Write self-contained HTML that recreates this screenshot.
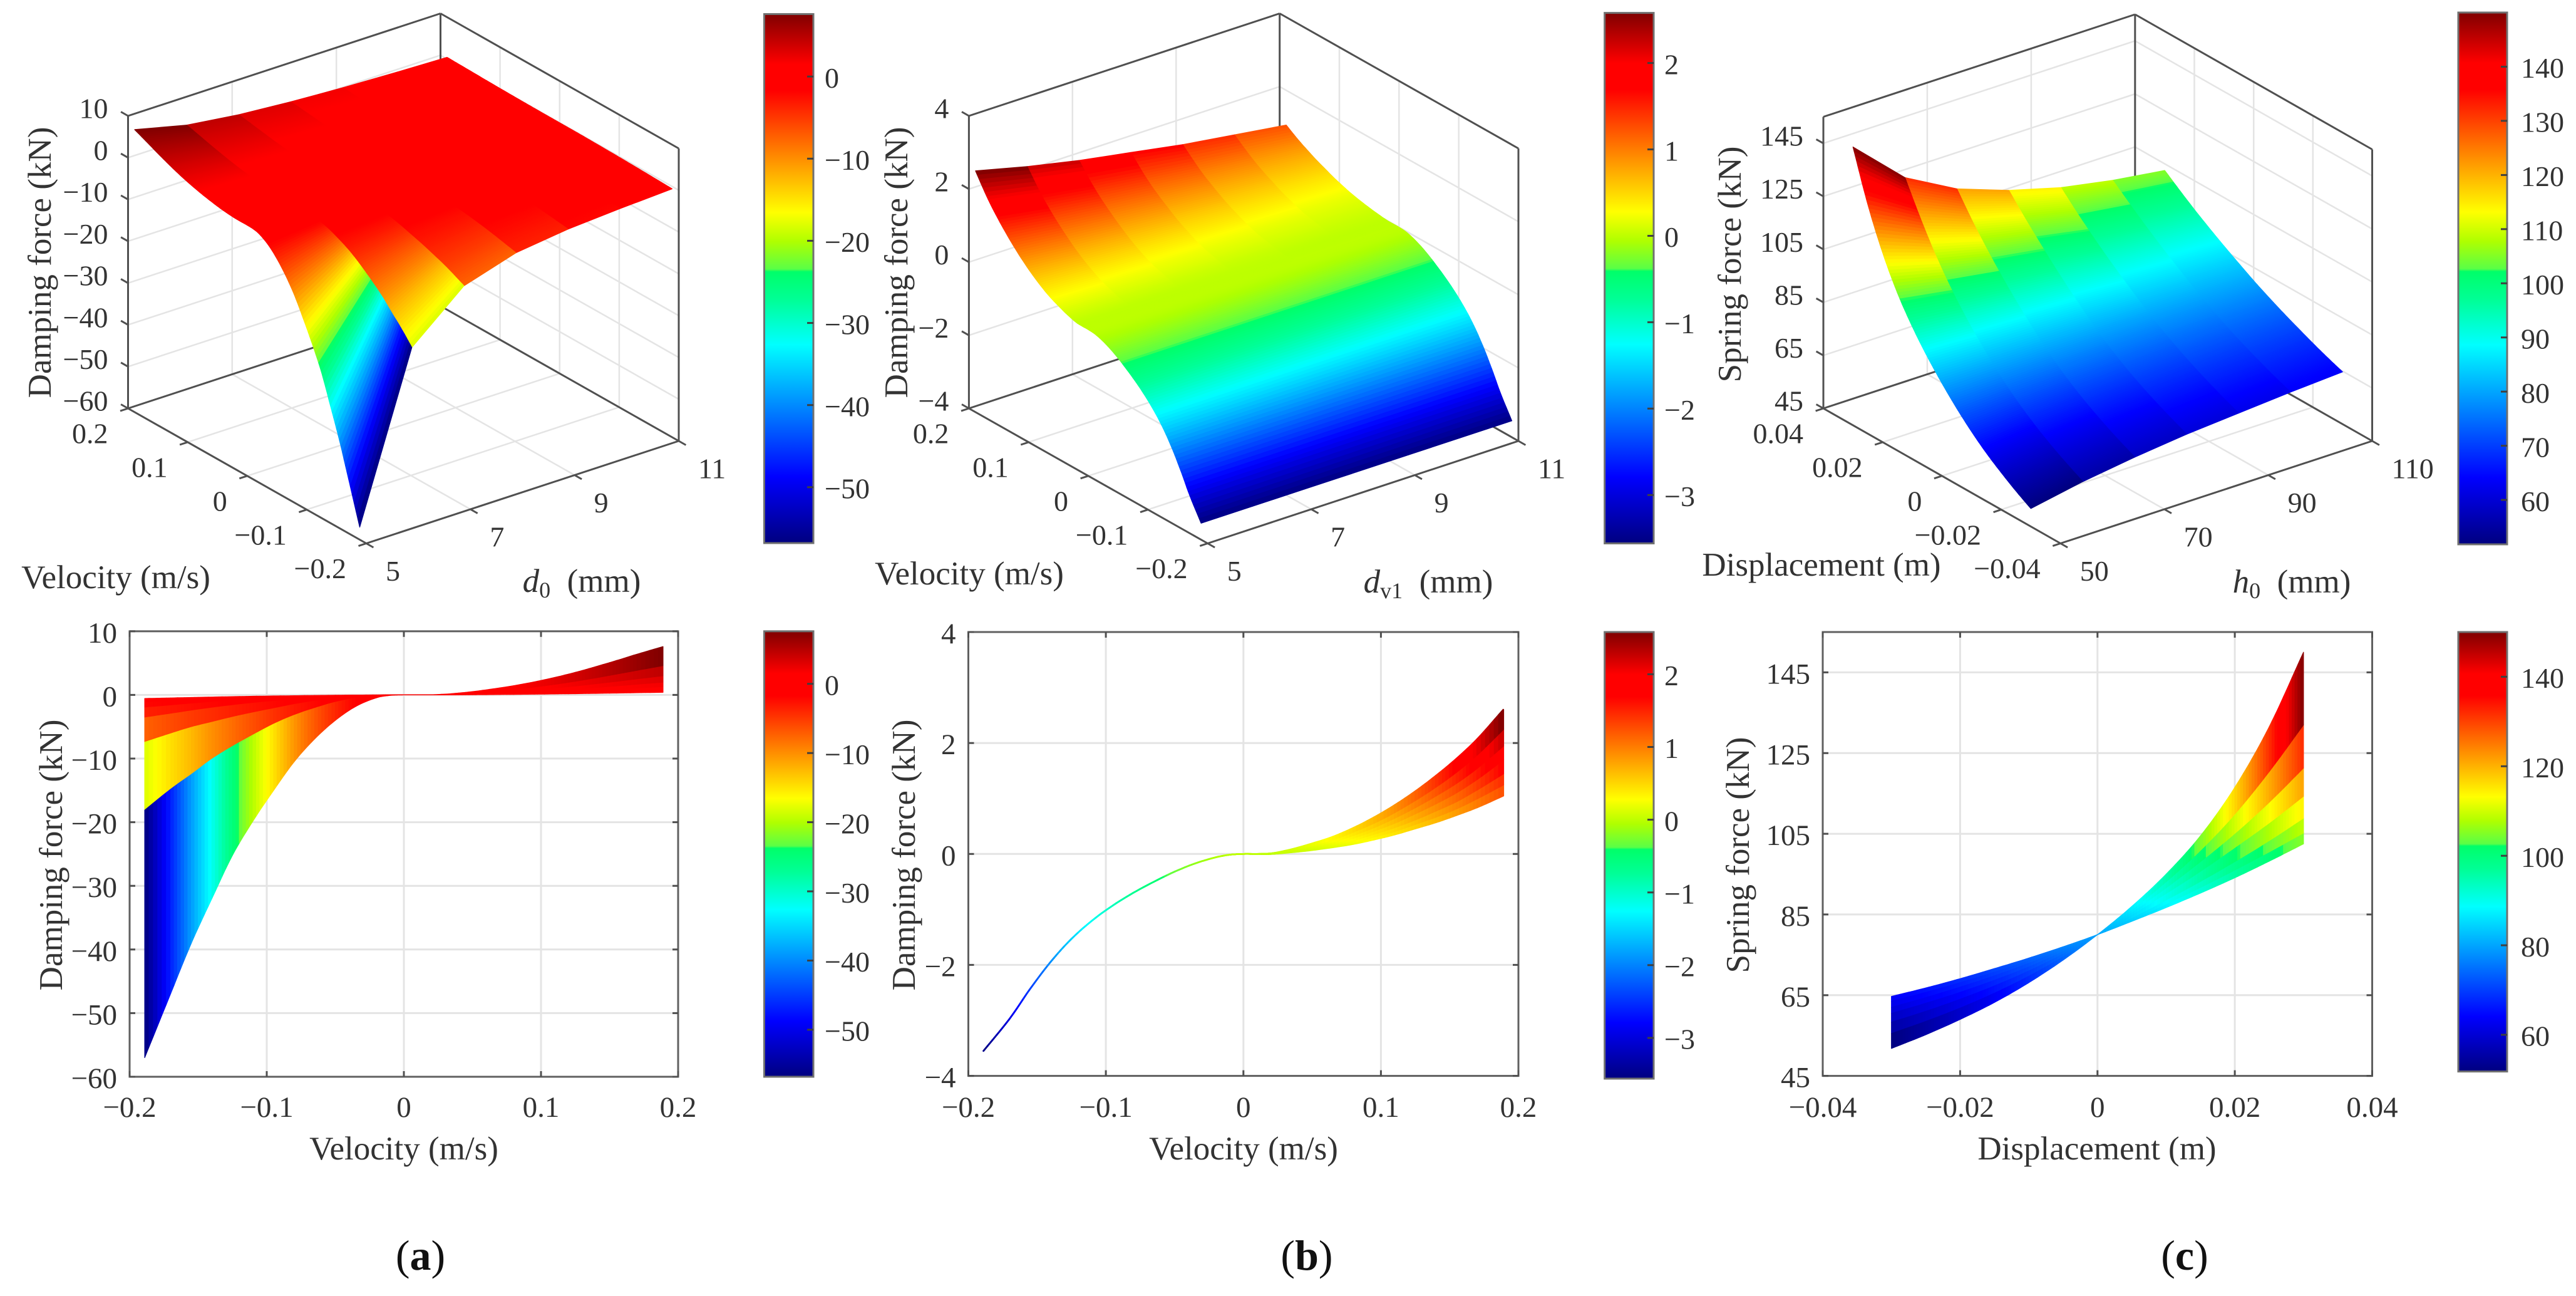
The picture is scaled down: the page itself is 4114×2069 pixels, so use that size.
<!DOCTYPE html>
<html lang="en">
<head>
<meta charset="utf-8">
<title>Damping and spring force response surfaces</title>
<style>
html,body{margin:0;padding:0;background:#fff;}
svg{display:block;}
text{font-family:"Liberation Serif","Times New Roman",serif;fill:#333;}
</style>
</head>
<body>
<svg id="figure" xmlns="http://www.w3.org/2000/svg" width="4114" height="2069" viewBox="0 0 4114 2069">
<rect x="0" y="0" width="4114" height="2069" fill="#fff"></rect>
<defs>
<linearGradient id="cbar-grad" x1="0" y1="1" x2="0" y2="0"></linearGradient>
</defs>
</svg>
<script>
/* ---------- data ---------- */
const velocitySamples = [-0.189,-0.17,-0.155,-0.14,-0.125,-0.11,-0.095,-0.08,-0.065,-0.05,-0.035,-0.02,-0.01,0,0.01,0.02,0.035,0.05,0.065,0.08,0.095,0.11,0.125,0.14,0.155,0.17,0.189];
const displacementSamples = [-0.03,-0.025,-0.02,-0.015,-0.01,-0.005,0,0.005,0.01,0.015,0.02,0.025,0.03];

const d0Values = [5,6,7,8,9,10,11];
const dv1Values = [5,6,7,8,9,10,11];
const h0Values = [50,60,70,80,90,100,110];

const dampingA_d5  = [-57,-46.9,-39,-32,-25.2,-19.8,-15,-10.5,-6.9,-4,-1.8,-0.45,-0.08,0,0,0.02,0.2,0.52,0.95,1.45,2.05,2.75,3.55,4.45,5.4,6.4,7.6];
const dampingA_d6  = [-18.1,-14.8,-12.5,-10.1,-8.1,-6.3,-4.6,-3.2,-2.1,-1.15,-0.5,-0.12,-0.02,0,0,0.01,0.12,0.31,0.57,0.88,1.24,1.66,2.15,2.69,3.27,3.87,4.6];
const dampingA_d7  = [-7.44,-6.1,-5.1,-4.3,-3.5,-2.8,-2.15,-1.5,-0.98,-0.55,-0.22,-0.06,-0.01,0,0,0.01,0.08,0.21,0.38,0.57,0.81,1.09,1.4,1.76,2.13,2.53,3];
const dampingA_d8  = [-3.6,-3,-2.5,-2.05,-1.65,-1.3,-1,-0.72,-0.48,-0.27,-0.12,-0.04,-0.01,0,0,0.01,0.05,0.14,0.25,0.38,0.54,0.72,0.93,1.17,1.42,1.68,2];
const dampingA_d9  = [-2.03,-1.68,-1.4,-1.14,-0.92,-0.72,-0.55,-0.4,-0.26,-0.15,-0.07,-0.02,0,0,0,0,0.03,0.09,0.16,0.25,0.35,0.47,0.61,0.76,0.92,1.09,1.3];
const dampingA_d10 = [-1.2,-0.98,-0.8,-0.65,-0.52,-0.4,-0.3,-0.22,-0.14,-0.08,-0.04,-0.01,0,0,0,0,0.02,0.05,0.1,0.15,0.22,0.29,0.37,0.47,0.57,0.67,0.8];
const dampingA_d11 = [-0.56,-0.47,-0.4,-0.33,-0.27,-0.21,-0.16,-0.12,-0.08,-0.05,-0.02,-0.01,0,0,0,0,0.01,0.03,0.05,0.08,0.11,0.15,0.19,0.24,0.29,0.34,0.4];

const dampingB_d5  = [-3.55,-2.97,-2.43,-1.94,-1.53,-1.2,-0.93,-0.7,-0.5,-0.32,-0.17,-0.06,-0.015,0,0,0.01,0.085,0.19,0.31,0.47,0.66,0.88,1.13,1.41,1.72,2.07,2.6];
const dampingB_d6  = [-3.55,-2.97,-2.43,-1.94,-1.53,-1.2,-0.93,-0.7,-0.5,-0.32,-0.17,-0.06,-0.015,0,0,0.01,0.07,0.16,0.26,0.4,0.56,0.75,0.97,1.21,1.48,1.79,2.25];
const dampingB_d7  = [-3.55,-2.97,-2.43,-1.94,-1.53,-1.2,-0.93,-0.7,-0.5,-0.32,-0.17,-0.06,-0.015,0,0,0.01,0.06,0.14,0.22,0.34,0.48,0.65,0.84,1.05,1.28,1.55,1.95];
const dampingB_d8  = [-3.55,-2.97,-2.43,-1.94,-1.53,-1.2,-0.93,-0.7,-0.5,-0.32,-0.17,-0.06,-0.015,0,0,0.01,0.05,0.12,0.19,0.29,0.42,0.56,0.73,0.91,1.11,1.35,1.7];
const dampingB_d9  = [-3.55,-2.97,-2.43,-1.94,-1.53,-1.2,-0.93,-0.7,-0.5,-0.32,-0.17,-0.06,-0.015,0,0,0,0.04,0.1,0.16,0.25,0.36,0.48,0.62,0.78,0.95,1.16,1.45];
const dampingB_d10 = [-3.55,-2.97,-2.43,-1.94,-1.53,-1.2,-0.93,-0.7,-0.5,-0.32,-0.17,-0.06,-0.015,0,0,0,0.035,0.085,0.14,0.21,0.31,0.41,0.54,0.67,0.82,1,1.25];
const dampingB_d11 = [-3.55,-2.97,-2.43,-1.94,-1.53,-1.2,-0.93,-0.7,-0.5,-0.32,-0.17,-0.06,-0.015,0,0,0,0.03,0.07,0.12,0.18,0.26,0.35,0.46,0.57,0.7,0.84,1.05];

const springC_h50  = [51.8,55.2,59,63.2,68.1,73.7,80,87,95,104.5,116.5,131.5,150];
const springC_h60  = [55.5,58.5,61.8,65.5,69.7,74.5,80,86.2,93.1,100.9,109.9,120.4,132];
const springC_h70  = [58.3,61,64,67.3,71,75.2,80,85.6,91.6,98.1,105.1,112.8,121.3];
const springC_h80  = [60.5,63,65.7,68.7,72,75.8,80,85,90.2,95.7,101.6,107.7,114.3];
const springC_h90  = [62,64.4,67,69.8,72.9,76.3,80,84.2,88.6,93.2,98.1,103.3,108.9];
const springC_h100 = [63.5,65.7,68.1,70.7,73.5,76.6,80,83.7,87.6,91.7,96,100.5,105.2];
const springC_h110 = [64.7,66.8,69.1,71.6,74.2,77,80,83.3,86.7,90.3,94.1,98.2,102.5];

const dampingACurves = [dampingA_d5,dampingA_d6,dampingA_d7,dampingA_d8,dampingA_d9,dampingA_d10,dampingA_d11];
const dampingBCurves = [dampingB_d5,dampingB_d6,dampingB_d7,dampingB_d8,dampingB_d9,dampingB_d10,dampingB_d11];
const springCCurves = [springC_h50,springC_h60,springC_h70,springC_h80,springC_h90,springC_h100,springC_h110];

/* tick values and labels */
const dTicks = [5,7,9,11];
const dTickLabels = ['5','7','9','11'];
const hTicks = [50,70,90,110];
const hTickLabels = ['50','70','90','110'];
const velocityTicks = [-0.2,-0.1,0,0.1,0.2];
const velocityTickLabels = ['\u22120.2','\u22120.1','0','0.1','0.2'];
const displacementTicks = [-0.04,-0.02,0,0.02,0.04];
const displacementTickLabels = ['\u22120.04','\u22120.02','0','0.02','0.04'];
const forceATicks = [-60,-50,-40,-30,-20,-10,0,10];
const forceATickLabels = ['\u221260','\u221250','\u221240','\u221230','\u221220','\u221210','0','10'];
const forceBTicks = [-4,-2,0,2,4];
const forceBTickLabels = ['\u22124','\u22122','0','2','4'];
const forceCTicks = [45,65,85,105,125,145];
const forceCTickLabels = ['45','65','85','105','125','145'];
const cbarATicks = [-50,-40,-30,-20,-10,0];
const cbarATickLabels = ['\u221250','\u221240','\u221230','\u221220','\u221210','0'];
const cbarBTicks = [-3,-2,-1,0,1,2];
const cbarBTickLabels = ['\u22123','\u22122','\u22121','0','1','2'];
const cbarCTopTicks = [60,70,80,90,100,110,120,130,140];
const cbarCTopTickLabels = ['60','70','80','90','100','110','120','130','140'];
const cbarCBottomTicks = [60,80,100,120,140];
const cbarCBottomTickLabels = ['60','80','100','120','140'];

/* colormap used by the surfaces and colour bars (position, r, g, b) */
const colormapPositions = [0,0.125,0.375,0.46,0.513,0.518,0.57,0.625,0.855,0.905,1];
const colormapRed   = [0,0,0,0,0,90,175,255,255,255,128];
const colormapGreen = [0,0,255,255,255,255,255,255,0,0,0];
const colormapBlue  = [128,255,255,150,105,70,0,0,0,0,0];

/* ---------- helpers ---------- */
const NS = 'http://www.w3.org/2000/svg';
const root = document.getElementById('figure');
const INK = '#505050';
const GRID = '#e4e4e4';
const TICK_SIZE = 46;
const TITLE_SIZE = 53;

function node(tag, parent, name) {
  const e = document.createElementNS(NS, tag);
  
  
  parent.appendChild(e);
  return e;
}
function line(parent, name, a, b, color, width) {
  const l = node('line', parent, name);
  l.setAttribute('x1', a.x.toFixed(1));
  l.setAttribute('y1', a.y.toFixed(1));
  l.setAttribute('x2', b.x.toFixed(1));
  l.setAttribute('y2', b.y.toFixed(1));
  l.setAttribute('stroke', color);
  l.setAttribute('stroke-width', width);
  return l;
}
function label(parent, name, str, x, cy, size, anchor, rotate) {
  const t = node('text', parent, name);
  t.setAttribute('text-anchor', anchor || 'middle');
  t.setAttribute('font-size', size);
  if (rotate) {
    t.setAttribute('transform', 'translate(' + x + ',' + cy + ') rotate(' + rotate + ')');
    t.setAttribute('x', 0);
    t.setAttribute('y', (size * 0.32).toFixed(1));
  } else {
    t.setAttribute('x', x);
    t.setAttribute('y', (cy + size * 0.32).toFixed(1));
  }
  t.textContent = str;
  return t;
}
function colorOf(value, clim) {
  let s = (value - clim[0]) / (clim[1] - clim[0]);
  s = Math.max(0, Math.min(1, s));
  let i = 0;
  while (i < colormapPositions.length - 2 && s > colormapPositions[i + 1]) i++;
  const f = (s - colormapPositions[i]) / (colormapPositions[i + 1] - colormapPositions[i]);
  const r = colormapRed[i] + f * (colormapRed[i + 1] - colormapRed[i]);
  const g = colormapGreen[i] + f * (colormapGreen[i + 1] - colormapGreen[i]);
  const b = colormapBlue[i] + f * (colormapBlue[i + 1] - colormapBlue[i]);
  return 'rgb(' + Math.round(r) + ',' + Math.round(g) + ',' + Math.round(b) + ')';
}
/* cubic Hermite through the samples, with tangents taken in real axis units */
function curveAt(arr, t, xs) {
  const n = arr.length;
  const i = Math.min(Math.floor(t), n - 2);
  const f = t - i;
  const h = xs[i + 1] - xs[i];
  const chord = (arr[i + 1] - arr[i]) / h;
  const m1 = i > 0 ? (arr[i + 1] - arr[i - 1]) / (xs[i + 1] - xs[i - 1]) : chord;
  const m2 = i < n - 2 ? (arr[i + 2] - arr[i]) / (xs[i + 2] - xs[i]) : chord;
  const f2 = f * f, f3 = f2 * f;
  return (2 * f3 - 3 * f2 + 1) * arr[i] + (f3 - 2 * f2 + f) * h * m1 + (3 * f2 - 2 * f3) * arr[i + 1] + (f3 - f2) * h * m2;
}
function sampleAt(arr, t) {
  const i = Math.min(Math.floor(t), arr.length - 2);
  return arr[i] + (t - i) * (arr[i + 1] - arr[i]);
}
function quad(parent, name, pts, fill, strokeW) {
  const p = node('polygon', parent, name);
  p.setAttribute('points', pts.map(function (q) { return q.x.toFixed(1) + ',' + q.y.toFixed(1); }).join(' '));
  p.setAttribute('fill', fill);
  p.setAttribute('stroke', fill);
  p.setAttribute('stroke-width', strokeW);
  p.setAttribute('stroke-linejoin', 'round');
  return p;
}

/* shared colormap gradient */
(function () {
  const g = document.getElementById('cbar-grad');
  for (let i = 0; i < colormapPositions.length; i++) {
    const s = document.createElementNS(NS, 'stop');
    s.setAttribute('offset', colormapPositions[i]);
    s.setAttribute('stop-color', 'rgb(' + colormapRed[i] + ',' + colormapGreen[i] + ',' + colormapBlue[i] + ')');
    g.appendChild(s);
  }
})();

/* ---------- colour bar ---------- */
function drawColorbar(parent, c) {
  const g = node('g', parent, c.name);
  const bar = node('rect', g, 'colorbar-gradient');
  bar.setAttribute('x', c.x0);
  bar.setAttribute('y', c.y0);
  bar.setAttribute('width', c.x1 - c.x0);
  bar.setAttribute('height', c.y1 - c.y0);
  bar.setAttribute('fill', 'url(#cbar-grad)');
  bar.setAttribute('stroke', '#707070');
  bar.setAttribute('stroke-width', 3);
  const scale = function (val) { return c.y1 - (val - c.clim[0]) / (c.clim[1] - c.clim[0]) * (c.y1 - c.y0); };
  c.ticks.forEach(function (val, i) {
    const y = scale(val);
    line(g, 'colorbar-tick', { x: c.x1 - 10, y: y }, { x: c.x1, y: y }, '#404040', 3);
    label(g, 'colorbar-tick-label', c.labels[i], c.x1 + c.labelGap, y + 3, TICK_SIZE, 'start');
  });
}

/* ---------- 3D surface ---------- */
function draw3D(parent, c) {
  const g = node('g', parent, c.name);
  const ex = { x: c.right.x - c.front.x, y: c.right.y - c.front.y };
  const ey = { x: c.left.x - c.front.x, y: c.left.y - c.front.y };
  const P = function (u, v, w) {
    return { x: c.front.x + u * ex.x + v * ey.x, y: c.front.y + u * ex.y + v * ey.y - w * c.height };
  };
  const U = function (val) { return (val - c.xRange[0]) / (c.xRange[1] - c.xRange[0]); };
  const V = function (val) { return (val - c.yRange[0]) / (c.yRange[1] - c.yRange[0]); };
  const W = function (val) { return (val - c.zRange[0]) / (c.zRange[1] - c.zRange[0]); };

  const grid = node('g', g, 'grid-lines');
  c.zTicks.forEach(function (val) {
    const w = W(val);
    line(grid, 'z-gridline', P(0, 1, w), P(1, 1, w), GRID, 2.5);
    line(grid, 'z-gridline', P(1, 1, w), P(1, 0, w), GRID, 2.5);
  });
  c.xTicks.forEach(function (val) {
    const u = U(val);
    line(grid, 'x-gridline', P(u, 1, 0), P(u, 1, 1), GRID, 2.5);
    line(grid, 'x-gridline', P(u, 0, 0), P(u, 1, 0), GRID, 2.5);
  });
  c.yTicks.forEach(function (val) {
    const v = V(val);
    line(grid, 'y-gridline', P(1, v, 0), P(1, v, 1), GRID, 2.5);
    line(grid, 'y-gridline', P(0, v, 0), P(1, v, 0), GRID, 2.5);
  });

  const back = node('g', g, 'back-box-edges');
  line(back, 'box-edge', P(0, 1, 0), P(1, 1, 0), INK, 3);
  line(back, 'box-edge', P(1, 1, 0), P(1, 0, 0), INK, 3);
  line(back, 'box-edge', P(1, 1, 0), P(1, 1, 1), INK, 3);
  line(back, 'box-edge', P(0, 1, 1), P(1, 1, 1), INK, 3);
  line(back, 'box-edge', P(1, 1, 1), P(1, 0, 1), INK, 3);

  const surf = node('g', g, 'surface');
  const n = c.samples.length;
  for (let i = c.curves.length - 2; i >= 0; i--) {
    const near = c.curves[i], far = c.curves[i + 1];
    const u0 = U(c.params[i]), u1 = U(c.params[i + 1]);
    for (let j = (n - 1) * c.subdiv - 1; j >= 0; j--) {
      const ta = j / c.subdiv, tb = (j + 1) / c.subdiv;
      const va = V(sampleAt(c.samples, ta)), vb = V(sampleAt(c.samples, tb));
      const pts = [
        P(u0, va, W(curveAt(near, ta, c.samples))),
        P(u0, vb, W(curveAt(near, tb, c.samples))),
        P(u1, vb, W(curveAt(far, tb, c.samples))),
        P(u1, va, W(curveAt(far, ta, c.samples)))
      ];
      quad(surf, 'surface-cell', pts, colorOf(curveAt(near, (ta + tb) / 2, c.samples), c.clim), 1.2);
    }
  }

  const front = node('g', g, 'front-box-edges');
  line(front, 'box-edge', P(0, 0, 0), P(1, 0, 0), INK, 3);
  line(front, 'box-edge', P(0, 0, 0), P(0, 1, 0), INK, 3);
  line(front, 'box-edge', P(0, 1, 0), P(0, 1, 1), INK, 3);
  line(front, 'box-edge', P(1, 0, 0), P(1, 0, 1), INK, 3);

  const axes = node('g', g, 'axis-ticks');
  c.xTicks.forEach(function (val, i) {
    const u = U(val);
    line(axes, 'x-tick', P(u, 0, 0), P(u, -0.03, 0), INK, 3);
    const p = P(u, 0, 0);
    label(axes, 'x-tick-label', c.xLabels[i], p.x + 31, p.y + 45, TICK_SIZE, 'start');
  });
  c.yTicks.forEach(function (val, i) {
    const v = V(val);
    line(axes, 'y-tick', P(0, v, 0), P(-0.025, v, 0), INK, 3);
    const p = P(0, v, 0);
    label(axes, 'y-tick-label', c.yLabels[i], p.x - 32, p.y + 41, TICK_SIZE, 'end');
  });
  c.zTicks.forEach(function (val, i) {
    const w = W(val);
    line(axes, 'z-tick', P(0, 1, w), P(0, 1.03, w), INK, 3);
    const p = P(0, 1, w);
    label(axes, 'z-tick-label', c.zLabels[i], p.x - 32, p.y - 11, TICK_SIZE, 'end');
  });

  label(g, 'z-axis-title', c.zTitle, c.zTitlePos.x, c.zTitlePos.y, TITLE_SIZE, 'middle', -90);
  label(g, 'y-axis-title', c.yTitle, c.yTitlePos.x, c.yTitlePos.y, TITLE_SIZE, 'middle');

  const t = node('text', g, 'x-axis-title');
  t.setAttribute('text-anchor', 'middle');
  t.setAttribute('font-size', TITLE_SIZE);
  t.setAttribute('x', c.xTitlePos.x);
  t.setAttribute('y', c.xTitlePos.y + 17);
  const a = document.createElementNS(NS, 'tspan');
  a.setAttribute('font-style', 'italic');
  a.textContent = c.xSymbol;
  t.appendChild(a);
  const b = document.createElementNS(NS, 'tspan');
  b.setAttribute('font-size', 36);
  b.setAttribute('dy', 9);
  b.textContent = c.xSubscript;
  t.appendChild(b);
  const d = document.createElementNS(NS, 'tspan');
  d.setAttribute('dy', -9);
  d.textContent = '\u00A0\u00A0(mm)';
  t.appendChild(d);
}

/* ---------- 2D projection ---------- */
function draw2D(parent, c) {
  const g = node('g', parent, c.name);
  const X = function (val) { return c.x0 + (val - c.xRange[0]) / (c.xRange[1] - c.xRange[0]) * (c.x1 - c.x0); };
  const Y = function (val) { return c.y1 - (val - c.yRange[0]) / (c.yRange[1] - c.yRange[0]) * (c.y1 - c.y0); };

  const grid = node('g', g, 'grid-lines');
  c.xTicks.forEach(function (val) {
    line(grid, 'x-gridline', { x: X(val), y: c.y0 }, { x: X(val), y: c.y1 }, GRID, 3);
  });
  c.yTicks.forEach(function (val) {
    line(grid, 'y-gridline', { x: c.x0, y: Y(val) }, { x: c.x1, y: Y(val) }, GRID, 3);
  });

  const surf = node('g', g, 'force-band');
  const n = c.samples.length;
  for (let i = c.curves.length - 2; i >= 0; i--) {
    const near = c.curves[i], far = c.curves[i + 1];
    for (let j = 0; j < (n - 1) * c.subdiv; j++) {
      const ta = j / c.subdiv, tb = (j + 1) / c.subdiv;
      const xa = X(sampleAt(c.samples, ta)), xb = X(sampleAt(c.samples, tb));
      const pts = [
        { x: xa, y: Y(curveAt(near, ta, c.samples)) },
        { x: xb, y: Y(curveAt(near, tb, c.samples)) },
        { x: xb, y: Y(curveAt(far, tb, c.samples)) },
        { x: xa, y: Y(curveAt(far, ta, c.samples)) }
      ];
      quad(surf, 'band-cell', pts, colorOf(curveAt(near, (ta + tb) / 2, c.samples), c.clim), c.strokeW);
    }
  }

  const frame = node('rect', g, 'plot-frame');
  frame.setAttribute('x', c.x0);
  frame.setAttribute('y', c.y0);
  frame.setAttribute('width', c.x1 - c.x0);
  frame.setAttribute('height', c.y1 - c.y0);
  frame.setAttribute('fill', 'none');
  frame.setAttribute('stroke', '#606060');
  frame.setAttribute('stroke-width', 3);

  c.xTicks.forEach(function (val, i) {
    line(g, 'x-tick', { x: X(val), y: c.y1 }, { x: X(val), y: c.y1 - 9 }, INK, 3);
    line(g, 'x-tick', { x: X(val), y: c.y0 }, { x: X(val), y: c.y0 + 9 }, INK, 3);
    label(g, 'x-tick-label', c.xLabels[i], X(val), 1768, TICK_SIZE + 1, 'middle');
  });
  c.yTicks.forEach(function (val, i) {
    line(g, 'y-tick', { x: c.x0, y: Y(val) }, { x: c.x0 + 9, y: Y(val) }, INK, 3);
    line(g, 'y-tick', { x: c.x1, y: Y(val) }, { x: c.x1 - 9, y: Y(val) }, INK, 3);
    label(g, 'y-tick-label', c.yLabels[i], c.x0 - 20, Y(val) + 3, TICK_SIZE + 1, 'end');
  });
  label(g, 'y-axis-title', c.yTitle, c.yTitlePos.x, c.yTitlePos.y, TITLE_SIZE, 'middle', -90);
  label(g, 'x-axis-title', c.xTitle, c.xTitlePos.x, c.xTitlePos.y, TITLE_SIZE, 'middle');
}

/* ---------- panels ---------- */
const climA = [-56.8, 7.6];
const climB = [-3.56, 2.58];
const climC = [51.8, 150];

draw3D(root, {
  name: 'surface-plot-a',
  front: { x: 585, y: 867.5 }, right: { x: 1084, y: 704 }, left: { x: 204.5, y: 652 }, height: 467,
  xRange: [5, 11], yRange: [-0.2, 0.2], zRange: [-60, 10], clim: climA,
  samples: velocitySamples, params: d0Values, curves: dampingACurves, subdiv: 6,
  xTicks: dTicks, xLabels: dTickLabels, yTicks: velocityTicks, yLabels: velocityTickLabels,
  zTicks: forceATicks, zLabels: forceATickLabels,
  zTitle: 'Damping force (kN)', zTitlePos: { x: 64, y: 419 },
  yTitle: 'Velocity (m/s)', yTitlePos: { x: 185, y: 922 },
  xSymbol: 'd', xSubscript: '0', xTitlePos: { x: 929, y: 928 }
});
draw3D(root, {
  name: 'surface-plot-b',
  front: { x: 1928.7, y: 867.5 }, right: { x: 2425, y: 704 }, left: { x: 1547.4, y: 652 }, height: 467,
  xRange: [5, 11], yRange: [-0.2, 0.2], zRange: [-4, 4], clim: climB,
  samples: velocitySamples, params: dv1Values, curves: dampingBCurves, subdiv: 6,
  xTicks: dTicks, xLabels: dTickLabels, yTicks: velocityTicks, yLabels: velocityTickLabels,
  zTicks: forceBTicks, zLabels: forceBTickLabels,
  zTitle: 'Damping force (kN)', zTitlePos: { x: 1432, y: 419 },
  yTitle: 'Velocity (m/s)', yTitlePos: { x: 1548, y: 916 },
  xSymbol: 'd', xSubscript: 'v1', xTitlePos: { x: 2281, y: 929 }
});
draw3D(root, {
  name: 'surface-plot-c',
  front: { x: 3290.7, y: 867.5 }, right: { x: 3788.5, y: 704 }, left: { x: 2912, y: 652 }, height: 465.5,
  xRange: [50, 110], yRange: [-0.04, 0.04], zRange: [45, 155], clim: climC,
  samples: displacementSamples, params: h0Values, curves: springCCurves, subdiv: 12,
  xTicks: hTicks, xLabels: hTickLabels, yTicks: displacementTicks, yLabels: displacementTickLabels,
  zTicks: forceCTicks, zLabels: forceCTickLabels,
  zTitle: 'Spring force (kN)', zTitlePos: { x: 2763, y: 422 },
  yTitle: 'Displacement (m)', yTitlePos: { x: 2909, y: 902 },
  xSymbol: 'h', xSubscript: '0', xTitlePos: { x: 3660, y: 929 }
});

draw2D(root, {
  name: 'projection-plot-a',
  x0: 207, x1: 1083, y0: 1007.8, y1: 1719,
  xRange: [-0.2, 0.2], yRange: [-60, 10], clim: climA, strokeW: 1.2,
  samples: velocitySamples, curves: dampingACurves, subdiv: 6,
  xTicks: velocityTicks, xLabels: velocityTickLabels, yTicks: forceATicks, yLabels: forceATickLabels,
  yTitle: 'Damping force (kN)', yTitlePos: { x: 82, y: 1365 },
  xTitle: 'Velocity (m/s)', xTitlePos: { x: 645, y: 1834 }
});
draw2D(root, {
  name: 'projection-plot-b',
  x0: 1546.5, x1: 2425, y0: 1009, y1: 1717.6,
  xRange: [-0.2, 0.2], yRange: [-4, 4], clim: climB, strokeW: 2.6,
  samples: velocitySamples, curves: dampingBCurves, subdiv: 6,
  xTicks: velocityTicks, xLabels: velocityTickLabels, yTicks: forceBTicks, yLabels: forceBTickLabels,
  yTitle: 'Damping force (kN)', yTitlePos: { x: 1444, y: 1365 },
  xTitle: 'Velocity (m/s)', xTitlePos: { x: 1986, y: 1834 }
});
draw2D(root, {
  name: 'projection-plot-c',
  x0: 2911, x1: 3788.5, y0: 1009, y1: 1717.6,
  xRange: [-0.04, 0.04], yRange: [45, 155], clim: climC, strokeW: 1.2,
  samples: displacementSamples, curves: springCCurves, subdiv: 12,
  xTicks: displacementTicks, xLabels: displacementTickLabels, yTicks: forceCTicks, yLabels: forceCTickLabels,
  yTitle: 'Spring force (kN)', yTitlePos: { x: 2776, y: 1365 },
  xTitle: 'Displacement (m)', xTitlePos: { x: 3349, y: 1834 }
});

drawColorbar(root, { name: 'colorbar-a-top', x0: 1220.5, x1: 1299, y0: 22.5, y1: 867, clim: climA, ticks: cbarATicks, labels: cbarATickLabels, labelGap: 18 });
drawColorbar(root, { name: 'colorbar-b-top', x0: 2562.7, x1: 2641, y0: 20.6, y1: 867.5, clim: climB, ticks: cbarBTicks, labels: cbarBTickLabels, labelGap: 17 });
drawColorbar(root, { name: 'colorbar-c-top', x0: 3926, x1: 4004, y0: 20, y1: 869, clim: climC, ticks: cbarCTopTicks, labels: cbarCTopTickLabels, labelGap: 22 });
drawColorbar(root, { name: 'colorbar-a-bottom', x0: 1220.5, x1: 1299, y0: 1007.8, y1: 1719, clim: climA, ticks: cbarATicks, labels: cbarATickLabels, labelGap: 18 });
drawColorbar(root, { name: 'colorbar-b-bottom', x0: 2562.7, x1: 2641, y0: 1009, y1: 1722, clim: climB, ticks: cbarBTicks, labels: cbarBTickLabels, labelGap: 17 });
drawColorbar(root, { name: 'colorbar-c-bottom', x0: 3926, x1: 4004, y0: 1009, y1: 1710.6, clim: climC, ticks: cbarCBottomTicks, labels: cbarCBottomTickLabels, labelGap: 22 });

/* ---------- panel captions ---------- */
function caption(name, letter, x) {
  const t = node('text', root, name);
  t.setAttribute('text-anchor', 'middle');
  t.setAttribute('font-size', 68);
  t.setAttribute('x', x);
  t.setAttribute('y', 2027);
  t.setAttribute('style', 'fill:#111');
  t.appendChild(document.createTextNode('('));
  const b = document.createElementNS(NS, 'tspan');
  b.setAttribute('font-weight', 'bold');
  b.textContent = letter;
  t.appendChild(b);
  t.appendChild(document.createTextNode(')'));
}
caption('panel-caption-a', 'a', 671.5);
caption('panel-caption-b', 'b', 2087);
caption('panel-caption-c', 'c', 3489);
</script>
</body>
</html>
